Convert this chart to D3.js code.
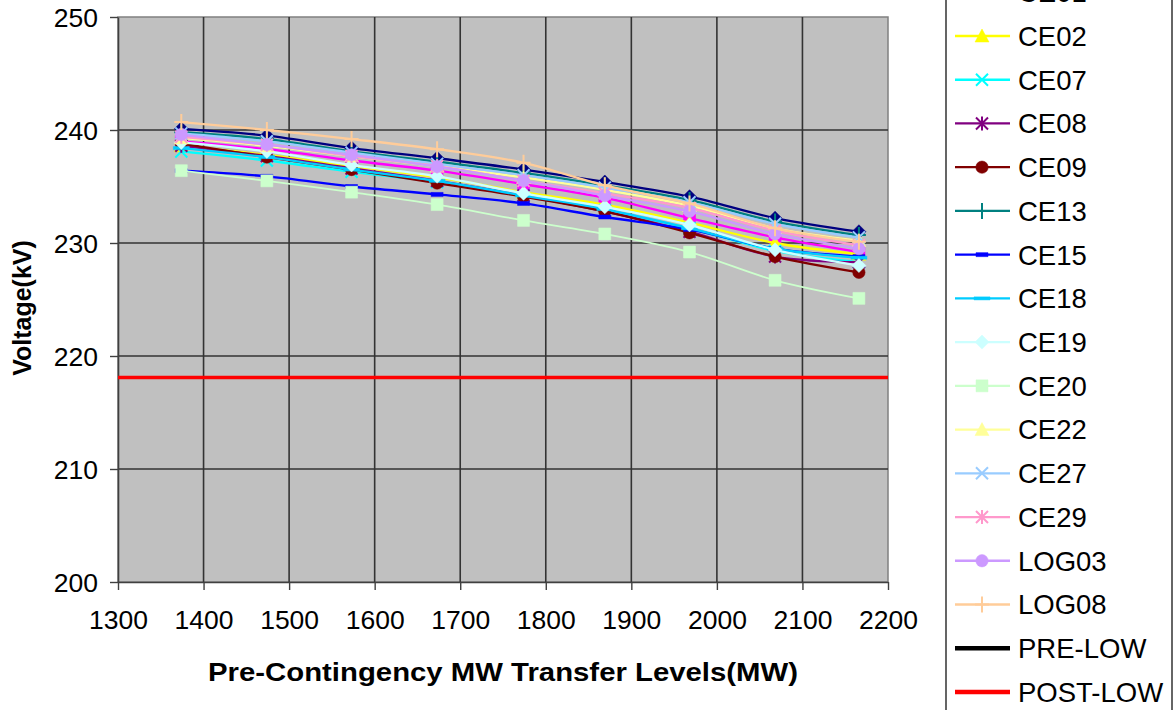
<!DOCTYPE html>
<html>
<head>
<meta charset="utf-8">
<script src="https://cdn.jsdelivr.net/npm/d3@7"></script>
<style>
  body { margin: 0; background: #fff; }
  svg { display: block; font-family: "Liberation Sans", Arial, sans-serif; }
</style>
</head>
<body>
<script>
const w = 1175;
const h = 710;

// transfer levels (MW)
const transfer = [1374, 1474, 1573, 1673, 1774, 1869, 1968, 2068, 2166];

// voltages (kV) per contingency
const base  = [240.1, 239.5, 238.4, 237.5, 236.5, 235.4, 234.1, 232.2, 231.0];
const ce01  = [239.0, 238.3, 237.3, 236.4, 235.2, 234.0, 232.2, 230.5, 229.2];
const ce02  = [238.6, 237.8, 236.8, 235.8, 234.5, 233.4, 231.8, 230.0, 229.0];
const ce07  = [238.1, 237.3, 236.3, 235.4, 234.2, 232.9, 231.3, 229.3, 228.3];
const ce08  = [238.6, 237.7, 236.6, 235.5, 234.2, 232.8, 231.0, 228.8, 228.3];
const ce09  = [238.8, 237.6, 236.5, 235.3, 234.1, 232.8, 230.9, 228.8, 227.4];
const ce13  = [239.8, 239.2, 238.1, 237.2, 236.2, 235.1, 233.8, 231.9, 230.7];
const ce15  = [236.4, 235.9, 235.0, 234.3, 233.5, 232.3, 231.2, 229.5, 228.8];
const ce18  = [238.4, 237.6, 236.5, 235.5, 234.2, 233.0, 231.3, 229.5, 228.7];
const ce19  = [238.9, 238.1, 236.9, 235.9, 234.4, 233.2, 231.6, 229.4, 228.0];
const ce20  = [236.4, 235.5, 234.5, 233.4, 232.0, 230.8, 229.2, 226.7, 225.1];
const ce22  = [239.3, 238.6, 237.7, 236.8, 235.8, 234.7, 233.3, 231.3, 230.2];
const ce27  = [239.7, 239.0, 238.0, 237.0, 236.0, 234.9, 233.6, 231.7, 230.5];
const ce29  = [239.4, 238.7, 237.7, 236.8, 235.5, 234.4, 233.1, 231.1, 229.8];
const log03 = [239.6, 238.7, 237.8, 236.75, 235.5, 234.2, 232.8, 230.8, 229.5];
const log08 = [240.7, 240.0, 239.2, 238.3, 237.1, 235.1, 233.5, 231.3, 230.1];

const postLow = 218.1;

const xTicks = [1300, 1400, 1500, 1600, 1700, 1800, 1900, 2000, 2100, 2200];
const yTicks = [200, 210, 220, 230, 240, 250];

const series = [
  { name: "BASE",  values: base,  color: "#000080", marker: "diamond" },
  { name: "CE01",  values: ce01,  color: "#FF00FF", marker: "square" },
  { name: "CE02",  values: ce02,  color: "#FFFF00", marker: "triangle" },
  { name: "CE07",  values: ce07,  color: "#00FFFF", marker: "x" },
  { name: "CE08",  values: ce08,  color: "#800080", marker: "star" },
  { name: "CE09",  values: ce09,  color: "#800000", marker: "circle" },
  { name: "CE13",  values: ce13,  color: "#008080", marker: "plus" },
  { name: "CE15",  values: ce15,  color: "#0000FF", marker: "dash" },
  { name: "CE18",  values: ce18,  color: "#00CCFF", marker: "longdash" },
  { name: "CE19",  values: ce19,  color: "#CCFFFF", marker: "diamond" },
  { name: "CE20",  values: ce20,  color: "#CCFFCC", marker: "square" },
  { name: "CE22",  values: ce22,  color: "#FFFF99", marker: "triangle" },
  { name: "CE27",  values: ce27,  color: "#99CCFF", marker: "x" },
  { name: "CE29",  values: ce29,  color: "#FF99CC", marker: "star" },
  { name: "LOG03", values: log03, color: "#CC99FF", marker: "circle" },
  { name: "LOG08", values: log08, color: "#FFCC99", marker: "plus" }
];

const svg = d3.select("body").append("svg")
  .attr("width", w)
  .attr("height", h);

const x = d3.scaleLinear().domain([1300, 2200]).range([118, 888]);
const y = d3.scaleLinear().domain([200, 250]).range([582, 17]);

// plot area
svg.append("rect")
  .attr("x", x(1300)).attr("y", y(250))
  .attr("width", x(2200) - x(1300)).attr("height", y(200) - y(250))
  .attr("fill", "#C0C0C0")
  .attr("stroke", "#808080")
  .attr("stroke-width", 1.5);

// grid
svg.append("g").selectAll("line.v")
  .data(xTicks.slice(1, -1))
  .join("line")
  .attr("x1", d => x(d)).attr("x2", d => x(d))
  .attr("y1", y(250)).attr("y2", y(200))
  .attr("stroke", "#333").attr("stroke-width", 1.6);

svg.append("g").selectAll("line.h")
  .data(yTicks.slice(1, -1))
  .join("line")
  .attr("x1", x(1300)).attr("x2", x(2200))
  .attr("y1", d => y(d)).attr("y2", d => y(d))
  .attr("stroke", "#333").attr("stroke-width", 1.6);

// axes
const xAxis = d3.axisBottom(x).tickValues(xTicks).tickFormat(d3.format("d"))
  .tickSize(8).tickPadding(20).tickSizeOuter(0);
const yAxis = d3.axisLeft(y).tickValues(yTicks).tickFormat(d3.format("d"))
  .tickSize(8).tickPadding(12).tickSizeOuter(0);

const gx = svg.append("g").attr("transform", `translate(0,${y(200)})`).call(xAxis);
const gy = svg.append("g").attr("transform", `translate(${x(1300)},0)`).call(yAxis);
[gx, gy].forEach(g => {
  g.select(".domain").attr("stroke", "#404040").attr("stroke-width", 1.6);
  g.selectAll(".tick line").attr("stroke", "#404040").attr("stroke-width", 1.4);
  g.selectAll(".tick text")
    .attr("font-family", "Liberation Sans, Arial, sans-serif")
    .attr("font-size", 26.5)
    .attr("fill", "#000");
});
gy.selectAll(".tick text").attr("dy", "0.36em");

// axis titles
svg.append("text")
  .attr("x", 503).attr("y", 681)
  .attr("text-anchor", "middle")
  .attr("font-weight", "bold")
  .attr("font-size", 25)
  .attr("textLength", 590)
  .attr("lengthAdjust", "spacingAndGlyphs")
  .text("Pre-Contingency MW Transfer Levels(MW)");

svg.append("text")
  .attr("transform", `translate(31,308) rotate(-90)`)
  .attr("text-anchor", "middle")
  .attr("font-weight", "bold")
  .attr("font-size", 25)
  .text("Voltage(kV)");

// markers
function markerPath(type) {
  switch (type) {
    case "diamond": return "M0,-7L7,0L0,7L-7,0Z";
    case "square": return "M-6,-6H6V6H-6Z";
    case "triangle": return "M0,-7L7,6H-7Z";
    case "circle": return d3.symbol(d3.symbolCircle, 120)();
    case "x": return "M-6,-6L6,6M-6,6L6,-6";
    case "star": return "M-6,-6L6,6M-6,6L6,-6M0,-7V7";
    case "plus": return "M-7,0H7M0,-8V8";
    case "dash": return "M-6,-2H6V2H-6Z";
    case "longdash": return "M-8,-1.5H8V1.5H-8Z";
  }
}
const filled = t => ["diamond", "square", "triangle", "circle", "dash", "longdash"].includes(t);

function drawMarker(g, s, px, py) {
  g.append("path")
    .attr("d", markerPath(s.marker))
    .attr("transform", `translate(${px},${py})`)
    .attr("fill", filled(s.marker) ? s.color : "none")
    .attr("stroke", s.color)
    .attr("stroke-width", filled(s.marker) ? 0.5 : 2);
}

// series
const line = d3.line()
  .x((d, i) => x(transfer[i]))
  .y(d => y(d))
  .curve(d3.curveCatmullRom.alpha(0.5));

series.forEach(s => {
  const g = svg.append("g");
  g.append("path")
    .attr("d", line(s.values))
    .attr("fill", "none")
    .attr("stroke", s.color)
    .attr("stroke-width", s.name === "CE20" ? 1.8 : 2.3);
  s.values.forEach((v, i) => drawMarker(g, s, x(transfer[i]), y(v)));
});

// POST-LOW limit
svg.append("line")
  .attr("x1", x(1300)).attr("x2", x(2200))
  .attr("y1", y(postLow)).attr("y2", y(postLow))
  .attr("stroke", "#FF0000").attr("stroke-width", 3.5);

// legend (box runs past the top and bottom of the picture, as in the source)
const legendItems = series.map(s => ({ name: s.name, color: s.color, marker: s.marker }))
  .concat([
    { name: "PRE-LOW", color: "#000000", marker: null },
    { name: "POST-LOW", color: "#FF0000", marker: null }
  ]);

const rowH = 43.73;
const firstRow = 36 - 2 * rowH;

svg.append("rect")
  .attr("x", 946).attr("y", firstRow - 40)
  .attr("width", 226).attr("height", 900)
  .attr("fill", "#fff").attr("stroke", "#000").attr("stroke-width", 1.2);

legendItems.forEach((d, i) => {
  const cy = firstRow + i * rowH;
  if (cy < -30) return; // entry sits wholly above the picture
  const g = svg.append("g");
  g.append("line")
    .attr("x1", 955).attr("x2", 1010)
    .attr("y1", cy).attr("y2", cy)
    .attr("stroke", d.color)
    .attr("stroke-width", d.marker ? 2.3 : 4.5);
  if (d.marker) drawMarker(g, d, 982, cy);
  g.append("text")
    .attr("x", 1018).attr("y", cy)
    .attr("dy", "0.36em")
    .attr("font-size", 27.5)
    .text(d.name);
});
</script>
</body>
</html>
